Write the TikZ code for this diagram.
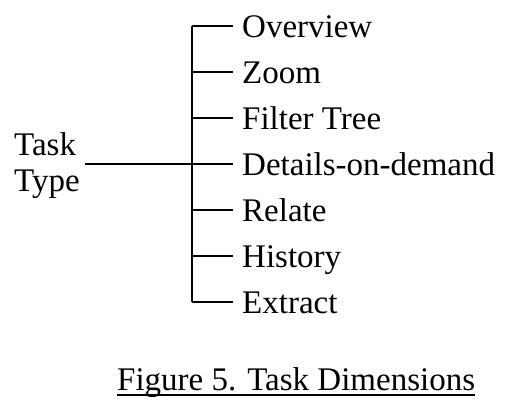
\documentclass[tikz,border=0pt]{standalone}
\usepackage{fontspec}
\setmainfont{Liberation Serif}
\begin{document}
\begin{tikzpicture}[x=1pt,y=-1pt,
  txt/.style={inner sep=0pt,anchor=base west,font=\fontsize{33}{36}\selectfont},
  wire/.style={line width=2pt}]
\useasboundingbox (0,0) rectangle (524,416);
% root label
\node[txt] (task) at (14,155) {Task};
\node[txt] (type) at (14,191) {Type};
% trunk
\coordinate (top) at (192,26);
\coordinate (bot) at (192,302);
\coordinate (root) at (85,164);
\coordinate (hub) at (192,164);
\draw[wire] (top) -- (bot);
\draw[wire] (root) -- (hub);
% branches
\foreach \name/\lab [count=\i from 0] in
  {ov/Overview,zo/Zoom,ft/Filter Tree,dd/Details-on-demand,re/Relate,hi/History,ex/Extract}{
  \coordinate (\name-j) at (192,26+46*\i);
  \coordinate (\name-e) at (233,26+46*\i);
  \node[txt] (\name) at (242,37+46*\i) {\lab};
  \draw[wire] (\name-j) -- (\name-e);
}
% caption
\node[txt] (cap) at (117,390) {Figure 5. Task Dimensions};
\draw[line width=1.8pt] ([yshift=-5pt]cap.base west) -- ([yshift=-5pt]cap.base east);
\end{tikzpicture}
\end{document}
